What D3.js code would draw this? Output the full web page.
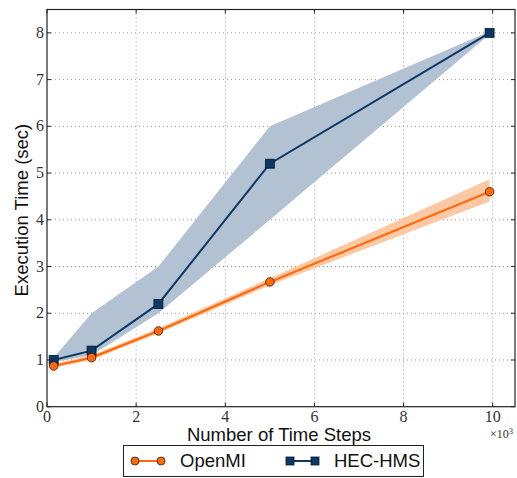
<!DOCTYPE html>
<html><head><meta charset="utf-8">
<script src="https://cdn.jsdelivr.net/npm/d3@7"></script>
<style>body{margin:0;background:#fff}svg{display:block}</style>
</head><body>
<svg id="c" width="517" height="478"></svg>
<script>
const steps = [0.15, 1, 2.5, 5, 9.93];
const openmi = [0.87, 1.05, 1.62, 2.67, 4.6];
const openmiLo = [0.83, 1.0, 1.57, 2.6, 4.39];
const openmiHi = [0.92, 1.1, 1.68, 2.75, 4.87];
const hec = [1.0, 1.2, 2.2, 5.2, 8.0];
const hecLo = [0.95, 1.1, 2.0, 4.0, 7.97];
const hecHi = [1.05, 2.0, 3.0, 6.0, 8.03];
const xTicks = [0, 2, 4, 6, 8, 10];
const yTicks = [0, 1, 2, 3, 4, 5, 6, 7, 8];

const svg = d3.select("#c");
const L = 47, R = 515, T = 9.5, B = 406.7;
const x = d3.scaleLinear().domain([0, 10.5]).range([L, R]);
const y = d3.scaleLinear().domain([0, 8.5]).range([B, T]);

// grid
const g = svg.append("g");
g.selectAll(".gx").data(xTicks.filter(d => d > 0)).enter().append("line")
  .attr("x1", d => x(d)).attr("x2", d => x(d)).attr("y1", T).attr("y2", B)
  .attr("stroke", "#999").attr("stroke-dasharray", "1,3").attr("stroke-width", 1);
g.selectAll(".gy").data(yTicks.filter(d => d > 0)).enter().append("line")
  .attr("y1", d => y(d)).attr("y2", d => y(d)).attr("x1", L).attr("x2", R)
  .attr("stroke", "#999").attr("stroke-dasharray", "1,3").attr("stroke-width", 1);

const idx = d3.range(steps.length);
const area = (lo, hi) => d3.area().x(i => x(steps[i])).y0(i => y(lo[i])).y1(i => y(hi[i]))(idx);
const line = (v) => d3.line().x(i => x(steps[i])).y(i => y(v[i]))(idx);

svg.append("path").attr("d", area(hecLo, hecHi)).attr("fill", "#b2c2d2");
svg.append("path").attr("d", area(openmiLo, openmiHi)).attr("fill", "#fdc9a4");

svg.append("path").attr("d", line(hec)).attr("fill", "none").attr("stroke", "#0c3766").attr("stroke-width", 2);
svg.append("path").attr("d", line(openmi)).attr("fill", "none").attr("stroke", "#ff6a0d").attr("stroke-width", 2.2);

svg.selectAll(".sq").data(idx).enter().append("rect")
  .attr("x", i => x(steps[i]) - 4.5).attr("y", i => y(hec[i]) - 4.5)
  .attr("width", 9).attr("height", 9).attr("fill", "#0c3766").attr("stroke", "#061a30").attr("stroke-width", 0.8);
svg.selectAll(".ci").data(idx).enter().append("circle")
  .attr("cx", i => x(steps[i])).attr("cy", i => y(openmi[i])).attr("r", 4.3)
  .attr("fill", "#ff6a0d").attr("stroke", "#3a1a00").attr("stroke-width", 0.8);

// frame
svg.append("rect").attr("x", L).attr("y", T).attr("width", R - L).attr("height", B - T)
  .attr("fill", "none").attr("stroke", "#222").attr("stroke-width", 1.2);

// ticks (inward, all sides)
const tk = svg.append("g").attr("stroke", "#222").attr("stroke-width", 1);
xTicks.forEach(d => {
  tk.append("line").attr("x1", x(d)).attr("x2", x(d)).attr("y1", B).attr("y2", B - 4);
  tk.append("line").attr("x1", x(d)).attr("x2", x(d)).attr("y1", T).attr("y2", T + 4);
});
yTicks.forEach(d => {
  tk.append("line").attr("y1", y(d)).attr("y2", y(d)).attr("x1", L).attr("x2", L + 4);
  tk.append("line").attr("y1", y(d)).attr("y2", y(d)).attr("x1", R).attr("x2", R - 4);
});

const serif = "'Liberation Serif','DejaVu Serif',serif";
svg.selectAll(".xl").data(xTicks).enter().append("text")
  .attr("x", d => x(d)).attr("y", B + 15).attr("text-anchor", "middle")
  .attr("font-family", serif).attr("font-size", 16).attr("fill", "#333").text(d => d);
svg.selectAll(".yl").data(yTicks).enter().append("text")
  .attr("x", L - 3).attr("y", d => y(d) + 5).attr("text-anchor", "end")
  .attr("font-family", serif).attr("font-size", 16).attr("fill", "#333").text(d => d);

const mult = svg.append("text").attr("x", 490).attr("y", 438).attr("font-family", serif)
  .attr("font-size", 12).attr("fill", "#333");
mult.append("tspan").text("×10");
mult.append("tspan").attr("dy", -4).attr("font-size", 8.5).text("3");

const sans = "'Liberation Sans',Arial,sans-serif";
svg.append("text").attr("x", 279).attr("y", 441).attr("text-anchor", "middle")
  .attr("font-family", sans).attr("font-size", 18.5).attr("fill", "#111").text("Number of Time Steps");
svg.append("text").attr("transform", `translate(28,${(T + B) / 2 + 2}) rotate(-90)`).attr("text-anchor", "middle")
  .attr("font-family", sans).attr("font-size", 18.5).attr("fill", "#111").text("Execution Time (sec)");

// legend
const lg = svg.append("g");
lg.append("rect").attr("x", 123.5).attr("y", 445.5).attr("width", 300).attr("height", 31)
  .attr("fill", "#fff").attr("stroke", "#222").attr("stroke-width", 1);
const ly = 461;
lg.append("line").attr("x1", 135).attr("x2", 161).attr("y1", ly).attr("y2", ly).attr("stroke", "#ff6a0d").attr("stroke-width", 2);
[135, 161].forEach(px => lg.append("circle").attr("cx", px).attr("cy", ly).attr("r", 4).attr("fill", "#ff6a0d").attr("stroke", "#3a1a00").attr("stroke-width", 0.8));
lg.append("text").attr("x", 180).attr("y", 467).attr("font-family", sans).attr("font-size", 18.5).attr("fill", "#111").text("OpenMI");
lg.append("line").attr("x1", 290).attr("x2", 315).attr("y1", ly).attr("y2", ly).attr("stroke", "#0c3766").attr("stroke-width", 2);
[290, 315].forEach(px => lg.append("rect").attr("x", px - 4).attr("y", ly - 4).attr("width", 8).attr("height", 8).attr("fill", "#0c3766").attr("stroke", "#061a30").attr("stroke-width", 0.8));
lg.append("text").attr("x", 334).attr("y", 467).attr("font-family", sans).attr("font-size", 18.5).attr("fill", "#111").text("HEC-HMS");
</script>
</body></html>
